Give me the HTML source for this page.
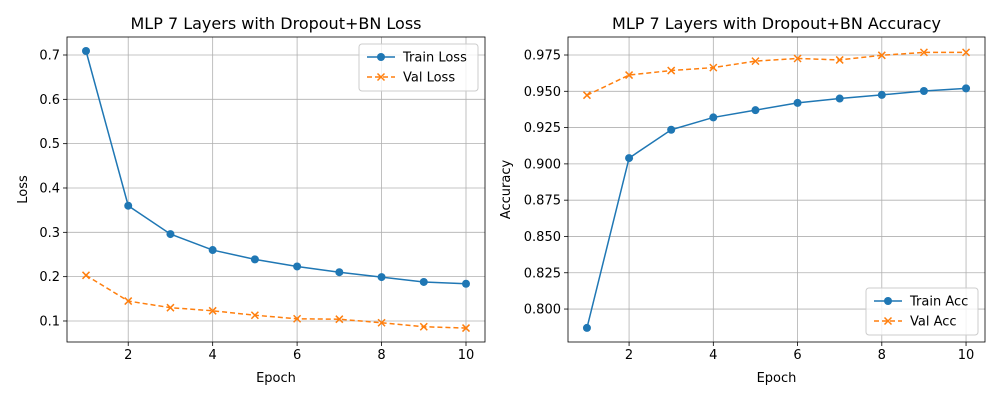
<!DOCTYPE html>
<html><head><meta charset="utf-8"><style>
body{margin:0;background:#fff;font-family:"Liberation Sans","DejaVu Sans",sans-serif}
svg text{font-family:"DejaVu Sans","Liberation Sans",sans-serif;fill:#000}
</style></head><body>
<svg id="fig" width="1000" height="400" xmlns="http://www.w3.org/2000/svg"></svg>
<script>
const epochs=[1,2,3,4,5,6,7,8,9,10];
const trainLoss=[0.709,0.360,0.296,0.260,0.239,0.223,0.210,0.199,0.188,0.184];
const valLoss=[0.203,0.145,0.130,0.123,0.113,0.105,0.104,0.096,0.087,0.084];
const trainAcc=[0.787,0.904,0.9235,0.932,0.937,0.942,0.945,0.9475,0.9502,0.952];
const valAcc=[0.9473,0.9612,0.9643,0.9663,0.9708,0.9726,0.9716,0.9748,0.9768,0.9768];
const xTicks=[2,4,6,8,10];
const lossTicks=[0.1,0.2,0.3,0.4,0.5,0.6,0.7];
const accTicks=[0.800,0.825,0.850,0.875,0.900,0.925,0.950,0.975];
const NS="http://www.w3.org/2000/svg";
const svg=document.getElementById('fig');
function mk(tag,attrs,parent){const e=document.createElementNS(NS,tag);for(const k in attrs)e.setAttribute(k,attrs[k]);(parent||svg).appendChild(e);return e;}
function txt(s,attrs,parent){const e=mk('text',attrs,parent);e.textContent=s;return e;}
function panel(cfg){
  const g=mk('g',{});
  
  
  const L=cfg.x0,R=cfg.x1,T=37,B=342;
  const sx=v=>L+(v-0.55)/(10.45-0.55)*(R-L);
  const sy=v=>B-(v-cfg.ymin)/(cfg.ymax-cfg.ymin)*(B-T);
  xTicks.forEach(t=>{
    const l=mk('line',{x1:sx(t),x2:sx(t),y1:T,y2:B,stroke:'#b0b0b0','stroke-width':0.8},g);
    
    mk('line',{x1:sx(t),x2:sx(t),y1:B,y2:B+4,stroke:'#000','stroke-width':0.8},g);
    const tt=txt(t,{x:sx(t),y:B+17,'font-size':13,'text-anchor':'middle'},g);
    
  });
  cfg.ticks.forEach(t=>{
    const l=mk('line',{x1:L,x2:R,y1:sy(t),y2:sy(t),stroke:'#b0b0b0','stroke-width':0.8},g);
    
    mk('line',{x1:L-4,x2:L,y1:sy(t),y2:sy(t),stroke:'#000','stroke-width':0.8},g);
    const tt=txt(t.toFixed(cfg.dec),{x:L-7,y:sy(t)+4.5,'font-size':13,'text-anchor':'end'},g);
    
  });
  const series=[{d:cfg.train,c:'#1f77b4',dash:'',m:'o',n:cfg.trainName},{d:cfg.val,c:'#ff7f0e',dash:'5,3',m:'x',n:cfg.valName}];
  series.forEach(s=>{
    const pts=epochs.map((e,i)=>sx(e)+','+sy(s.d[i])).join(' ');
    const pl=mk('polyline',{points:pts,fill:'none',stroke:s.c,'stroke-width':1.5,'stroke-dasharray':s.dash},g);
    
    epochs.forEach((e,i)=>{
      const x=sx(e),y=sy(s.d[i]);
      if(s.m==='o'){const c=mk('circle',{cx:x,cy:y,r:4,fill:s.c},g);}
      else{const p=mk('path',{d:`M${x-3.5},${y-3.5}L${x+3.5},${y+3.5}M${x-3.5},${y+3.5}L${x+3.5},${y-3.5}`,stroke:s.c,'stroke-width':1.5},g);}
    });
  });
  mk('rect',{x:L,y:T,width:R-L,height:B-T,fill:'none',stroke:'#000','stroke-width':0.8},g);
  const ti=txt(cfg.title,{x:(L+R)/2,y:29,'font-size':16,'text-anchor':'middle'},g);
  
  const xl=txt('Epoch',{x:(L+R)/2,y:382,'font-size':13,'text-anchor':'middle'},g);
  
  const yx=cfg.ylx, yy=(T+B)/2;
  const yl=txt(cfg.ylabel,{x:yx,y:yy,'font-size':13,'text-anchor':'middle',transform:`rotate(-90 ${yx} ${yy})`},g);
  
  const lg=mk('g',{},g);
  
  const lx=cfg.lx,ly=cfg.ly,lw=cfg.lw;
  mk('rect',{x:lx,y:ly,width:lw,height:47,rx:3,fill:'#fff','fill-opacity':0.8,stroke:'#ccc'},lg);
  series.forEach((s,i)=>{
    const y=ly+13+i*20;
    mk('line',{x1:lx+8,x2:lx+36,y1:y,y2:y,stroke:s.c,'stroke-width':1.5,'stroke-dasharray':s.dash},lg);
    const x=lx+22;
    if(s.m==='o')mk('circle',{cx:x,cy:y,r:4,fill:s.c},lg);
    else mk('path',{d:`M${x-3.5},${y-3.5}L${x+3.5},${y+3.5}M${x-3.5},${y+3.5}L${x+3.5},${y-3.5}`,stroke:s.c,'stroke-width':1.5},lg);
    const e=txt(s.n,{x:lx+44,y:y+4.5,'font-size':13},lg);
    
  });
}
panel({name:'loss-chart',x0:67,x1:485,ymin:0.0526,ymax:0.7406,ticks:lossTicks,dec:1,train:trainLoss,val:valLoss,
  trainName:'Train Loss',valName:'Val Loss',title:'MLP 7 Layers with Dropout+BN Loss',ylabel:'Loss',ylx:27,lx:359,ly:44,lw:119});
panel({name:'accuracy-chart',x0:568,x1:985,ymin:0.7773,ymax:0.9874,ticks:accTicks,dec:3,train:trainAcc,val:valAcc,
  trainName:'Train Acc',valName:'Val Acc',title:'MLP 7 Layers with Dropout+BN Accuracy',ylabel:'Accuracy',ylx:510,lx:866,ly:288,lw:112});
</script>
</body></html>
